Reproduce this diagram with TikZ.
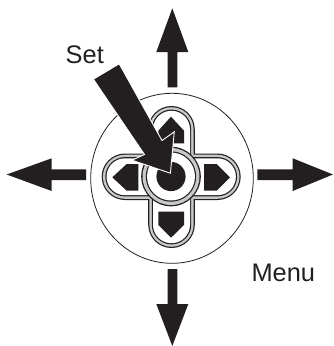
\documentclass[tikz,border=0pt]{standalone}
\usepackage{fontspec}
\setmainfont{Liberation Sans}
\definecolor{ink}{HTML}{231F20}
\definecolor{band}{HTML}{C8C8C8}
\tikzset{
  blk/.style={fill=ink,draw=none},
  lbl/.style={text=ink,inner sep=0pt,anchor=base west,font=\fontsize{25.4}{28}\selectfont},
  ringline/.style={draw=ink,line width=0.8pt,fill=white}
}
\newcommand{\pills}[2]{%
  \fill[#2,rounded corners={(23.3-#1)*1pt}] (148.2+#1,106+#1) rectangle (194.8-#1,248-#1);
  \fill[#2,rounded corners={(23.3-#1)*1pt}] (101.7+#1,153.5+#1) rectangle (240.7-#1,200-#1);
}
\begin{document}
\begin{tikzpicture}[x=1pt,y=-1pt]
\useasboundingbox (0,0) rectangle (333,346);
% outer ellipse
\draw[ringline] (172,178.3) ellipse [x radius=81.3,y radius=85];
% cross: stacked insets give the double outline
\pills{0}{ink}
\pills{1.2}{band}
\pills{3.6}{ink}
\pills{4.8}{white}
% centre ring
\fill[ink] (171,176.5) circle [radius=29.8];
\fill[band] (171,176.5) circle [radius=28.5];
\fill[ink] (171,176.5) circle [radius=25.2];
\fill[white] (171,176.5) circle [radius=24];
\fill[ink] (171,176.5) circle [radius=14.6];
% pentagons
\fill[ink] (171,116.7) -- (184,130.7) -- (184,143.3) -- (158.3,143.3) -- (158.3,130.7) -- cycle;
\fill[ink] (171,237.7) -- (184,225) -- (184,211.7) -- (158.3,211.7) -- (158.3,225) -- cycle;
\fill[ink] (112.3,177.3) -- (126.7,164) -- (138.3,164) -- (138.3,190.7) -- (126.7,190.7) -- cycle;
\fill[ink] (230,177.3) -- (216.7,164) -- (204,164) -- (204,190.7) -- (216.7,190.7) -- cycle;
% outward arrows
\fill[blk] (167.7,87.3) -- (167.7,52) -- (156.3,52) -- (172.3,8.3) -- (188.3,52) -- (177.3,52) -- (177.3,87.3) -- cycle;
\fill[blk] (167.7,269) -- (167.7,304) -- (156.3,304) -- (172.3,346) -- (188.3,304) -- (177.3,304) -- (177.3,269) -- cycle;
\fill[blk] (86,169.3) -- (51.7,169.3) -- (51.7,158.3) -- (6.7,174.5) -- (51.7,191) -- (51.7,180) -- (86,180) -- cycle;
\fill[blk] (257.3,169.3) -- (292.7,169.3) -- (292.7,158.3) -- (333,174.5) -- (292.7,191) -- (292.7,180) -- (257.3,180) -- cycle;
% Set pointer
\filldraw[fill=ink,draw=white,line width=0.9pt,line join=miter] (93.4,79.2) -- (119.2,63.8) -- (162,140.5) -- (174.3,131.8) -- (170.4,173.2) -- (132,160.2) -- (144.5,154.5) -- cycle;
% labels
\node[lbl] (setlabel) at (65.5,63.3) {Set};
\node[lbl] (menulabel) at (251.3,281.7) {Menu};
\end{tikzpicture}
\end{document}
